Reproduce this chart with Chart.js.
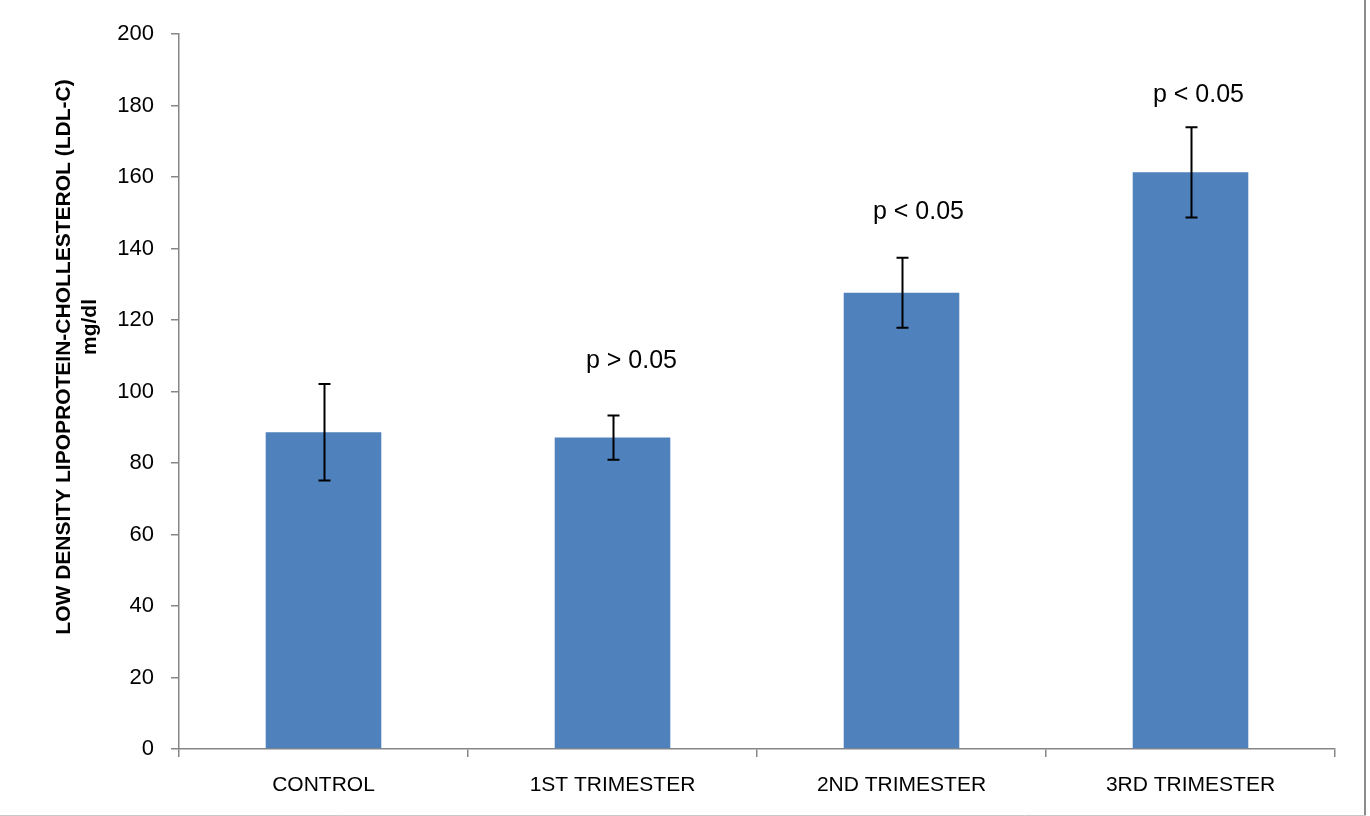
<!DOCTYPE html>
<html>
<head>
<meta charset="utf-8">
<script src="https://cdn.jsdelivr.net/npm/chart.js@4/dist/chart.umd.min.js"></script>
<style>
  html, body { margin: 0; padding: 0; background: #ffffff; }
  #wrap { width: 1370px; height: 816px; position: relative; }
  canvas { display: block; }
</style>
</head>
<body>
<div id="wrap"><canvas id="ldl" width="1370" height="816"></canvas></div>
<script>
// LDL-C by group (mg/dl): mean and standard deviation
const categories = ['CONTROL', '1ST TRIMESTER', '2ND TRIMESTER', '3RD TRIMESTER'];
const meanLDL = [88.6, 87.1, 127.6, 161.3];
const sdLDL = [13.5, 6.2, 9.8, 12.6];
const pLabels = ['', 'p > 0.05', 'p < 0.05', 'p < 0.05'];
const yTitleLines = ['LOW DENSITY LIPOPROTEIN-CHOLLESTEROL (LDL-C)', 'mg/dl'];
const yTickMin = 0;
const yTickMax = 200;
const yTickStep = 20;

const FONT = '"Liberation Sans", Arial, sans-serif';
const AXIS_GREY = '#868686';

// white background and the outer frame
const framePlugin = {
  id: 'frame',
  beforeDraw(chart) {
    const ctx = chart.ctx;
    ctx.save();
    ctx.fillStyle = '#ffffff';
    ctx.fillRect(0, 0, chart.width, chart.height);
    ctx.restore();
  },
  afterDraw(chart) {
    const ctx = chart.ctx;
    ctx.save();
    ctx.strokeStyle = '#8c8c8c';
    ctx.lineWidth = 2;
    ctx.beginPath();
    ctx.moveTo(1365, 0);
    ctx.lineTo(1365, 816);
    ctx.stroke();
    ctx.strokeStyle = '#c8c8c8';
    ctx.lineWidth = 1;
    ctx.beginPath();
    ctx.moveTo(0, 815.5);
    ctx.lineTo(1366, 815.5);
    ctx.stroke();
    ctx.restore();
  }
};

// rotated two-line value-axis title
const yTitlePlugin = {
  id: 'yTitle',
  afterDraw(chart, args, opts) {
    const ctx = chart.ctx;
    ctx.save();
    ctx.font = opts.font;
    ctx.fillStyle = opts.color;
    ctx.textAlign = 'center';
    ctx.textBaseline = 'middle';
    yTitleLines.forEach((line, i) => {
      ctx.save();
      ctx.translate(opts.x[i], opts.y[i]);
      ctx.rotate(-Math.PI / 2);
      ctx.fillText(line, 0, 0);
      ctx.restore();
    });
    ctx.restore();
  }
};

// standard-deviation whiskers on each bar
const errorBarPlugin = {
  id: 'errorBars',
  afterDatasetsDraw(chart, args, opts) {
    const ctx = chart.ctx;
    const y = chart.scales.y;
    const meta = chart.getDatasetMeta(0);
    ctx.save();
    ctx.strokeStyle = opts.color;
    ctx.lineWidth = opts.lineWidth;
    meta.data.forEach((bar, i) => {
      const x = Math.round(bar.x) + 0.5;
      const top = y.getPixelForValue(meanLDL[i] + sdLDL[i]);
      const bottom = y.getPixelForValue(meanLDL[i] - sdLDL[i]);
      ctx.beginPath();
      ctx.moveTo(x, top);
      ctx.lineTo(x, bottom);
      ctx.moveTo(x - opts.capHalf, top);
      ctx.lineTo(x + opts.capHalf, top);
      ctx.moveTo(x - opts.capHalf, bottom);
      ctx.lineTo(x + opts.capHalf, bottom);
      ctx.stroke();
    });
    ctx.restore();
  }
};

// significance notes above the whiskers
const pLabelPlugin = {
  id: 'pLabels',
  afterDatasetsDraw(chart, args, opts) {
    const ctx = chart.ctx;
    const y = chart.scales.y;
    const meta = chart.getDatasetMeta(0);
    ctx.save();
    ctx.font = opts.font;
    ctx.fillStyle = opts.color;
    ctx.textAlign = 'center';
    ctx.textBaseline = 'alphabetic';
    meta.data.forEach((bar, i) => {
      if (!pLabels[i]) return;
      const top = y.getPixelForValue(meanLDL[i] + sdLDL[i]);
      ctx.fillText(pLabels[i], bar.x + opts.dx[i], top - opts.lift[i]);
    });
    ctx.restore();
  }
};

new Chart(document.getElementById('ldl'), {
  type: 'bar',
  data: {
    labels: categories,
    datasets: [{
      data: meanLDL,
      backgroundColor: '#4f81bd',
      borderWidth: 0,
      barPercentage: 0.4,
      categoryPercentage: 1.0
    }]
  },
  options: {
    responsive: false,
    animation: false,
    events: [],
    layout: { padding: { left: 0, top: 34, right: 35, bottom: 0 } },
    plugins: {
      legend: { display: false },
      tooltip: { enabled: false },
      yTitle: {
        font: 'bold 21px ' + FONT,
        color: '#000000',
        x: [64, 90],
        y: [357, 327]
      },
      errorBars: { color: '#000000', lineWidth: 2, capHalf: 6 },
      pLabels: {
        font: '25px ' + FONT,
        color: '#000000',
        dx: [0, 19, 17, 8],
        lift: [0, 47, 39, 25]
      }
    },
    scales: {
      x: {
        afterFit(scale) { scale.height = 67; },
        grid: {
          drawOnChartArea: false,
          drawTicks: true,
          tickLength: 8,
          color: AXIS_GREY,
          lineWidth: 1.5,
          offset: true
        },
        border: { color: AXIS_GREY, width: 1.5 },
        ticks: {
          color: '#000000',
          font: { family: FONT, size: 21 },
          padding: 16,
          maxRotation: 0,
          autoSkip: false
        }
      },
      y: {
        min: yTickMin,
        max: yTickMax,
        afterFit(scale) { scale.width = 179; },
        grid: {
          drawOnChartArea: false,
          drawTicks: true,
          tickLength: 8,
          color: AXIS_GREY,
          lineWidth: 1.5
        },
        border: { color: AXIS_GREY, width: 1.5 },
        ticks: {
          stepSize: yTickStep,
          color: '#000000',
          font: { family: FONT, size: 22 },
          padding: 17
        }
      }
    }
  },
  plugins: [framePlugin, yTitlePlugin, errorBarPlugin, pLabelPlugin]
});
</script>
</body>
</html>
